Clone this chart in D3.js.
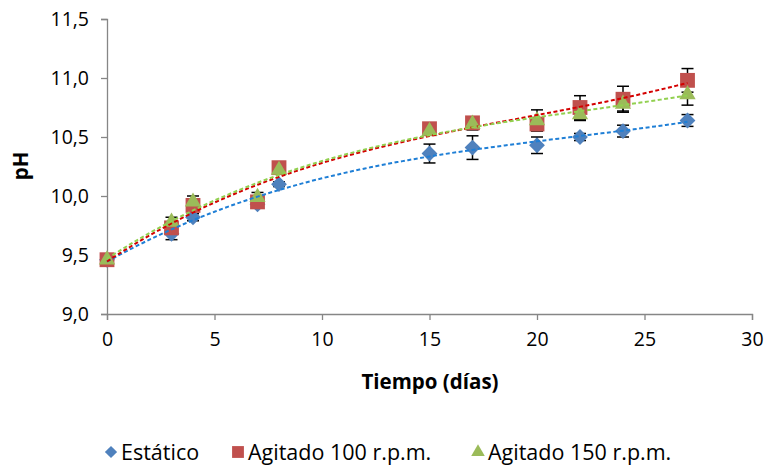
<!DOCTYPE html>
<html>
<head>
<meta charset="utf-8">
<script src="https://cdn.jsdelivr.net/npm/d3@7"></script>
<style>
  body { margin: 0; background: #fff; }
  svg { display: block; font-family: "Open Sans", Lato, sans-serif; }
</style>
</head>
<body>
<svg width="768" height="466"></svg>
<script>
// datos
const days = [0, 3, 4, 7, 8, 15, 17, 20, 22, 24, 27];
const estatico = [9.46, 9.68, 9.82, 9.93, 10.10, 10.36, 10.41, 10.43, 10.50, 10.55, 10.64];
const estaticoErr = [0, 0.05, 0.03, 0.02, 0.02, 0.08, 0.10, 0.07, 0.03, 0.05, 0.05];
const agitado100 = [9.46, 9.73, 9.92, 9.95, 10.24, 10.57, 10.62, 10.61, 10.75, 10.82, 10.98];
const agitado100Err = [0, 0.04, 0.05, 0.02, 0.02, 0.03, 0.05, 0.05, 0.10, 0.11, 0.10];
const agitado150 = [9.46, 9.78, 9.95, 9.99, 10.22, 10.55, 10.61, 10.64, 10.69, 10.78, 10.86];
const agitado150Err = [0, 0.04, 0.05, 0.04, 0.02, 0.03, 0.05, 0.09, 0.05, 0.06, 0.09];
const seriesNames = ["Estático", "Agitado 100 r.p.m.", "Agitado 150 r.p.m."];
const xTicks = [0, 5, 10, 15, 20, 25, 30];
const yTicks = [9.0, 9.5, 10.0, 10.5, 11.0, 11.5];

// rombo: cuadrado girado 45°
const symbolRombo = {
  draw(ctx, size) {
    const r = Math.sqrt(size / 2);
    ctx.moveTo(0, -r); ctx.lineTo(r, 0); ctx.lineTo(0, r); ctx.lineTo(-r, 0); ctx.closePath();
  }
};

const series = [
  { name: seriesNames[0], values: estatico, err: estaticoErr, color: "#4F81BD", trend: "#1F7FD6", symbol: symbolRombo, size: 125, lsize: 75 },
  { name: seriesNames[1], values: agitado100, err: agitado100Err, color: "#C0504D", trend: "#D40000", symbol: d3.symbolSquare, size: 220, lsize: 140 },
  { name: seriesNames[2], values: agitado150, err: agitado150Err, color: "#9BBB59", trend: "#92D050", symbol: d3.symbolTriangle, size: 115, lsize: 80 }
];

const margin = { top: 19, right: 16, bottom: 152, left: 107 };
const width = 768 - margin.left - margin.right;
const height = 466 - margin.top - margin.bottom;

const svg = d3.select("svg");
const g = svg.append("g").attr("transform", `translate(${margin.left},${margin.top})`);

const x = d3.scaleLinear().domain([0, 30]).range([0, width]);
const y = d3.scaleLinear().domain([9, 11.5]).range([height, 0]);
const fmt = d => d.toFixed(1).replace(".", ",");

// ejes
const xAxis = g.append("g")
  .attr("transform", `translate(0,${height})`)
  .call(d3.axisBottom(x).tickValues(xTicks).tickSize(6).tickPadding(10).tickFormat(d3.format("d")));
const yAxis = g.append("g")
  .call(d3.axisLeft(y).tickValues(yTicks).tickSize(6).tickPadding(12).tickFormat(fmt));
[xAxis, yAxis].forEach(a => {
  a.selectAll("path, line").attr("stroke", "#868686").attr("stroke-width", 1.3);
  a.selectAll("text").attr("font-size", 19.5).attr("fill", "#000").attr("font-family", "Open Sans");
});
xAxis.selectAll("text").attr("dy", "0.8em");

// títulos de los ejes
svg.append("text")
  .attr("x", 430).attr("y", 389)
  .attr("text-anchor", "middle")
  .attr("font-size", 20.5).attr("font-weight", "bold")
  .text("Tiempo (días)");
svg.append("text")
  .attr("transform", "translate(28,166) rotate(-90)")
  .attr("text-anchor", "middle")
  .attr("font-size", 20.5).attr("font-weight", "bold")
  .text("pH");

// línea de tendencia polinómica (mínimos cuadrados)
function polyFit(xs, ys, deg) {
  const n = deg + 1;
  const A = d3.range(n).map(i => d3.range(n + 1).map(j => 0));
  xs.forEach((xv, p) => {
    for (let i = 0; i < n; i++) {
      for (let j = 0; j < n; j++) A[i][j] += Math.pow(xv, i + j);
      A[i][n] += ys[p] * Math.pow(xv, i);
    }
  });
  for (let i = 0; i < n; i++) {
    for (let j = i + 1; j < n; j++) {
      const f = A[j][i] / A[i][i];
      for (let k = i; k <= n; k++) A[j][k] -= f * A[i][k];
    }
  }
  const c = new Array(n).fill(0);
  for (let i = n - 1; i >= 0; i--) {
    let v = A[i][n];
    for (let k = i + 1; k < n; k++) v -= A[i][k] * c[k];
    c[i] = v / A[i][i];
  }
  return xv => c.reduce((acc, ci, i) => acc + ci * Math.pow(xv, i), 0);
}

const line = d3.line().x(d => x(d[0])).y(d => y(d[1]));
const xs = d3.range(0, 27.01, 0.25);

// barras de error
series.forEach(s => {
  const eg = g.append("g");
  days.forEach((d, i) => {
    if (!s.err[i]) return;
    const cx = x(d), y1 = y(s.values[i] + s.err[i]), y2 = y(s.values[i] - s.err[i]);
    eg.append("line").attr("x1", cx).attr("x2", cx).attr("y1", y1).attr("y2", y2)
      .attr("stroke", "#000").attr("stroke-width", 1.5);
    [y1, y2].forEach(yy => eg.append("line")
      .attr("x1", cx - 6).attr("x2", cx + 6).attr("y1", yy).attr("y2", yy)
      .attr("stroke", "#000").attr("stroke-width", 1.5));
  });
});

// marcadores
series.forEach(s => {
  g.append("g").selectAll("path")
    .data(days.map((d, i) => [d, s.values[i]]))
    .join("path")
    .attr("transform", d => `translate(${x(d[0])},${y(d[1])})`)
    .attr("d", d3.symbol().type(s.symbol).size(s.size))
    .attr("fill", s.color);
});

// tendencias
series.forEach(s => {
  const f = polyFit(days, s.values, 3);
  g.append("path")
    .datum(xs.map(v => [v, f(v)]))
    .attr("d", line)
    .attr("fill", "none")
    .attr("stroke", s.trend)
    .attr("stroke-width", 2)
    .attr("stroke-dasharray", "4,2.5");
});

// leyenda
const legendX = [111, 238, 478];
series.forEach((s, i) => {
  const lg = svg.append("g").attr("transform", `translate(${legendX[i]},452)`);
  lg.append("path")
    .attr("d", d3.symbol().type(s.symbol).size(s.lsize))
    .attr("fill", s.color);
  lg.append("text")
    .attr("x", 10).attr("y", 0).attr("dy", "0.35em")
    .attr("font-size", 21.5)
    .text(s.name);
});
</script>
</body>
</html>
